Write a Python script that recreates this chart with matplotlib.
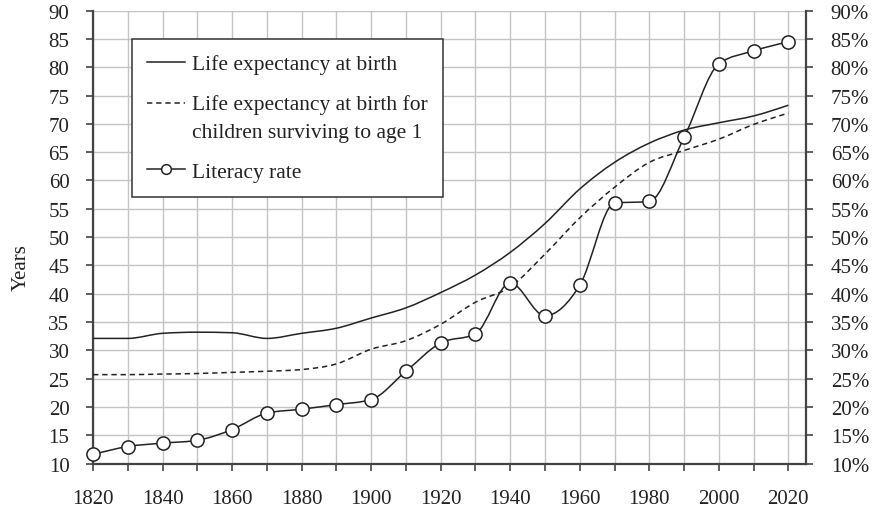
import matplotlib
matplotlib.use("Agg")
import matplotlib.pyplot as plt
import numpy as np
from matplotlib.path import Path
from matplotlib.patches import PathPatch
from matplotlib.lines import Line2D
from matplotlib.legend_handler import HandlerLine2D

plt.rcParams['font.family'] = ['Liberation Serif', 'DejaVu Serif']

years = [1820, 1830, 1840, 1850, 1860, 1870, 1880, 1890, 1900, 1910, 1920,
         1930, 1940, 1950, 1960, 1970, 1980, 1990, 2000, 2010, 2020]
life_exp = [32.1, 32.1, 33.0, 33.2, 33.1, 32.1, 33.0, 33.9, 35.7, 37.5, 40.2,
            43.3, 47.3, 52.4, 58.5, 63.2, 66.6, 68.9, 70.2, 71.4, 73.3]
life_exp_age1 = [25.7, 25.7, 25.8, 25.9, 26.1, 26.3, 26.6, 27.6, 30.2, 31.7, 34.6,
                 38.5, 41.2, 47.0, 53.4, 58.8, 63.2, 65.3, 67.3, 69.9, 71.9]
literacy = [11.6, 13.0, 13.6, 14.1, 16.0, 18.9, 19.6, 20.4, 21.3, 26.3, 31.3,
            32.9, 41.9, 36.1, 41.5, 56.0, 56.3, 67.6, 80.6, 82.9, 84.5]

labels = ["Life expectancy at birth",
          "Life expectancy at birth for\nchildren surviving to age 1",
          "Literacy rate"]

INK = "#222222"
FS = 15
LINESP = 1.63


def monotone_path(x, y):
    # cubic bezier path like d3.curveMonotoneX
    x = np.asarray(x, float)
    y = np.asarray(y, float)
    h = np.diff(x)
    s = np.diff(y) / h
    n = len(x)
    t = np.zeros(n)
    for i in range(1, n - 1):
        p = (s[i - 1] * h[i] + s[i] * h[i - 1]) / (h[i - 1] + h[i])
        t[i] = (np.sign(s[i - 1]) + np.sign(s[i])) * min(abs(s[i - 1]), abs(s[i]), 0.5 * abs(p))
    t[0] = (3 * s[0] - t[1]) / 2
    t[-1] = (3 * s[-1] - t[-2]) / 2
    verts = [(x[0], y[0])]
    codes = [Path.MOVETO]
    for i in range(n - 1):
        dx = h[i] / 3
        verts += [(x[i] + dx, y[i] + dx * t[i]),
                  (x[i + 1] - dx, y[i + 1] - dx * t[i + 1]),
                  (x[i + 1], y[i + 1])]
        codes += [Path.CURVE4] * 3
    return Path(verts, codes)


class FirstLineHandler(HandlerLine2D):
    # put the legend key next to the first line of a two-line label
    def __init__(self, shift, **kw):
        super().__init__(**kw)
        self.shift = shift

    def create_artists(self, legend, orig_handle, xdescent, ydescent, width,
                       height, fontsize, trans):
        arts = super().create_artists(legend, orig_handle, xdescent, ydescent,
                                      width, height, fontsize, trans)
        for a in arts:
            a.set_ydata(np.asarray(a.get_ydata()) + self.shift)
        return arts


fig = plt.figure(figsize=(8.72, 5.10), dpi=100)
ax = fig.add_axes([0.1067, 0.0892, 0.8173, 0.8879])

ax.add_patch(PathPatch(monotone_path(years, life_exp), fill=False,
                       edgecolor=INK, lw=1.1, zorder=3))
ax.add_patch(PathPatch(monotone_path(years, life_exp_age1), fill=False,
                       edgecolor=INK, lw=1.1, ls=(0, (3.5, 2.5)), zorder=3))
ax.add_patch(PathPatch(monotone_path(years, literacy), fill=False,
                       edgecolor=INK, lw=1.1, zorder=3))
ax.plot(years, literacy, 'o', ms=9.5, mfc='white', mec=INK, mew=1.1,
        zorder=4, clip_on=False)

ax.set_xlim(1820, 2025)
ax.set_ylim(10, 90)
ax.set_xticks(np.arange(1820, 2021, 10))
ax.set_xticklabels([str(v) if v % 20 == 0 else "" for v in range(1820, 2021, 10)])
ax.set_yticks(np.arange(10, 91, 5))
ax.grid(True, color="#c4c4c4", lw=1.0, zorder=0)
ax.set_axisbelow(True)

for side in ["left", "bottom"]:
    ax.spines[side].set_color("#444444")
    ax.spines[side].set_linewidth(1.6)
ax.spines["top"].set_visible(False)
ax.spines["right"].set_visible(False)
ax.tick_params(axis="y", direction="out", length=5, width=1.2, color="#444444",
               labelsize=FS, pad=12, labelcolor=INK)
ax.tick_params(axis="x", direction="out", length=5, width=1.2, color="#444444",
               labelsize=FS, pad=13, labelcolor=INK)
ax.set_ylabel("Years", fontsize=FS, color=INK)
ax.yaxis.set_label_coords(-0.087, 0.435)

ax2 = ax.twinx()
ax2.set_ylim(10, 90)
ax2.set_yticks(np.arange(10, 91, 5))
ax2.set_yticklabels(["%d%%" % v for v in range(10, 91, 5)])
ax2.spines["right"].set_color("#444444")
ax2.spines["right"].set_linewidth(1.6)
for side in ["left", "top", "bottom"]:
    ax2.spines[side].set_visible(False)
ax2.tick_params(axis="y", direction="out", length=5, width=1.2, color="#444444",
                labelsize=FS, pad=13, labelcolor=INK)

h_solid = Line2D([], [], color=INK, lw=1.1)
h_dash = Line2D([], [], color=INK, lw=1.1, ls=(0, (3.5, 2.5)))
h_lit = Line2D([], [], color=INK, lw=1.1, marker='o', ms=7, mfc='white',
               mec=INK, mew=1.1)
leg = ax.legend([h_solid, h_dash, h_lit], labels, loc="upper left",
                bbox_to_anchor=(0.0547, 0.9375),
                borderaxespad=0, prop={'size': 15.5}, frameon=True, fancybox=False,
                handlelength=1.75, handletextpad=0.33, labelspacing=0.93,
                borderpad=0.7,
                handler_map={h_dash: FirstLineHandler(10.4)})
leg.get_frame().set_edgecolor("#333333")
leg.get_frame().set_linewidth(1.1)
leg.get_frame().set_alpha(1)
for t in leg.get_texts():
    t.set_color(INK)
    t.set_linespacing(LINESP)
leg.set_zorder(10)

fig.savefig("out.png", dpi=100)
